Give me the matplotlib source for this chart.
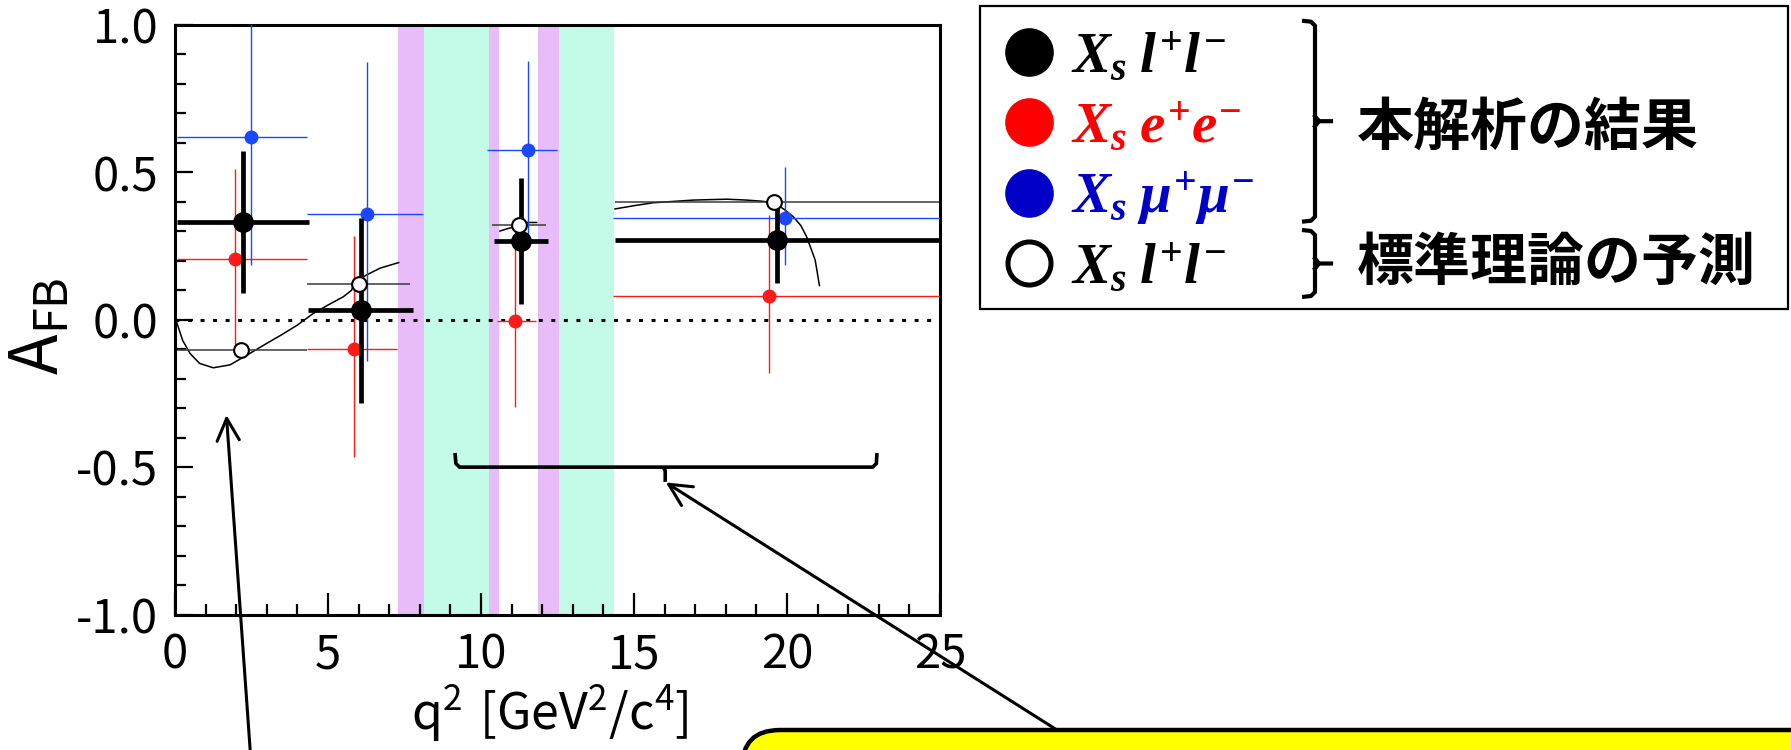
import numpy as np
import matplotlib
matplotlib.use('Agg')
import matplotlib.pyplot as plt
from matplotlib.patches import FancyBboxPatch, Rectangle

plt.rcParams['font.family'] = ['Noto Sans CJK JP', 'DejaVu Sans']
plt.rcParams['axes.unicode_minus'] = False
plt.rcParams['mathtext.fontset'] = 'dejavusans'
# fuentes para la leyenda (math_fontfamily='custom')
plt.rcParams['mathtext.rm'] = 'Liberation Serif:bold'
plt.rcParams['mathtext.it'] = 'Liberation Serif:italic:bold'
plt.rcParams['mathtext.bf'] = 'Liberation Serif:bold'

# Datos: combinado (negro), e+e- (rojo), mu+mu- (azul), predicción SM (círculos abiertos)
black_x = [2.23, 6.08, 11.31, 19.67]
black_y = [0.333, 0.033, 0.267, 0.270]
black_xlo = [0.05, 4.36, 10.42, 14.38]
black_xhi = [4.39, 7.77, 12.20, 25.0]
black_ylo = [0.092, -0.281, 0.052, 0.124]
black_yhi = [0.573, 0.344, 0.482, 0.416]

red_x = [1.97, 5.85, 11.11, 19.40]
red_y = [0.205, -0.099, -0.003, 0.082]
red_xlo = [0.05, 4.30, 10.53, 14.33]
red_xhi = [4.30, 7.27, 11.80, 25.0]
red_ylo = [-0.089, -0.467, -0.297, -0.180]
red_yhi = [0.510, 0.284, 0.288, 0.355]

blue_x = [2.48, 6.26, 11.52, 19.93]
blue_y = [0.621, 0.359, 0.576, 0.346]
blue_xlo = [0.05, 4.30, 10.21, 14.33]
blue_xhi = [4.30, 8.11, 12.47, 25.0]
blue_ylo = [0.186, -0.139, 0.288, 0.186]
blue_yhi = [1.20, 0.874, 0.878, 0.519]

sm_x = [2.16, 6.02, 11.24, 19.59]
sm_y = [-0.103, 0.120, 0.321, 0.398]
sm_xlo = [0.05, 4.30, 10.37, 14.38]
sm_xhi = [4.30, 7.68, 12.11, 25.0]

# curva teórica (tres tramos)
curve1_x = [0.05, 0.25, 0.49, 0.8, 1.25, 1.8, 2.45, 3.0, 3.5, 4.0, 4.5, 5.0, 5.5, 5.77, 5.85, 6.26, 6.7, 7.31]
curve1_y = [-0.007, -0.07, -0.114, -0.148, -0.163, -0.153, -0.114, -0.08, -0.05, -0.018, 0.02, 0.05, 0.078, 0.10, 0.125, 0.152, 0.175, 0.194]
curve2_x = [10.62, 10.9, 11.2, 11.5, 11.82]
curve2_y = [0.301, 0.31, 0.318, 0.33, 0.33]
curve3_x = [14.38, 15.0, 15.63, 16.94, 18.03, 18.68, 19.2, 19.6, 19.9, 20.2, 20.45, 20.64, 20.92, 21.06]
curve3_y = [0.376, 0.387, 0.397, 0.406, 0.409, 0.406, 0.402, 0.395, 0.375, 0.35, 0.32, 0.282, 0.203, 0.116]

# regiones de veto
magenta_bands = [(7.30, 8.15), (10.25, 10.60), (11.85, 12.55)]
cyan_bands = [(8.15, 10.25), (12.55, 14.35)]

# llave bajo los puntos (coordenadas de datos)
brace_x = [9.15, 9.18, 9.30, 22.80, 22.92, 22.94]
brace_y = [-0.452, -0.488, -0.500, -0.500, -0.488, -0.452]
notch_x = [15.95, 16.02, 16.02]
notch_y = [-0.500, -0.512, -0.550]

W, H = 1791, 750
fig = plt.figure(figsize=(W / 100, H / 100), dpi=100)
ax = fig.add_axes([175 / W, 1 - 614.5 / H, (940 - 175) / W, (614.5 - 25) / H])

for a, b in magenta_bands:
    ax.axvspan(a, b, color='#e8bcf8', lw=0, zorder=0.5)
for a, b in cyan_bands:
    ax.axvspan(a, b, color='#c4fbe8', lw=0, zorder=0.5)

ax.axhline(0, color='k', lw=2.2, ls=(0, (1.3, 2.8)), zorder=1)

for cx, cy in [(curve1_x, curve1_y), (curve2_x, curve2_y), (curve3_x, curve3_y)]:
    ax.plot(cx, cy, color='k', lw=1.1, zorder=2)


def draw_points(xs, ys, xlo, xhi, ylo, yhi, color, ms, lw, z):
    xs, ys = np.array(xs), np.array(ys)
    ax.errorbar(xs, ys,
                xerr=[xs - np.array(xlo), np.array(xhi) - xs],
                yerr=[ys - np.array(ylo), np.array(yhi) - ys],
                fmt='o', color=color, ms=ms, elinewidth=lw, capsize=0, zorder=z)


draw_points(red_x, red_y, red_xlo, red_xhi, red_ylo, red_yhi, '#ff1a1a', 9.0, 1.0, 3)
draw_points(blue_x, blue_y, blue_xlo, blue_xhi, blue_ylo, blue_yhi, '#1a47ff', 9.0, 1.0, 3)
ax.hlines(sm_y, sm_xlo, sm_xhi, color='#3a3a3a', lw=1.1, zorder=2.5)
draw_points(black_x, black_y, black_xlo, black_xhi, black_ylo, black_yhi, 'k', 14, 3.4, 4)
ax.plot(sm_x, sm_y, 'o', ms=10.6, mfc='white', mec='k', mew=1.5, zorder=5)

ax.plot(brace_x, brace_y, color='k', lw=2.6, zorder=6, solid_capstyle='butt')
ax.plot(notch_x, notch_y, color='k', lw=2.6, zorder=6, solid_capstyle='butt')

ax.set_xlim(0, 25)
ax.set_ylim(-1, 1)
ax.set_xticks([0, 5, 10, 15, 20, 25])
ax.set_xticks(np.arange(0, 26, 1), minor=True)
ax.set_yticks([-1.0, -0.5, 0.0, 0.5, 1.0])
ax.set_yticks(np.arange(-1.0, 1.01, 0.1), minor=True)
ax.set_yticklabels(['-1.0', '-0.5', '0.0', '0.5', '1.0'])
ax.tick_params(which='both', direction='in', top=False, right=False, width=1.6, labelsize=34)
ax.tick_params(axis='x', which='major', length=16, pad=12)
ax.tick_params(axis='y', which='major', length=13, pad=12)
ax.tick_params(which='minor', length=8)
for s in ax.spines.values():
    s.set_linewidth(2.2)

ax.set_xlabel(r'$\mathregular{q^2\ [GeV^2/c^4]}$', fontsize=36)
ax.xaxis.set_label_coords(0.49, -0.116)
ax.set_ylabel(r'$\mathregular{A_{FB}}$', fontsize=48)
ax.yaxis.set_label_coords(-0.133, 0.489)

# capa superior en píxeles de la figura
over = fig.add_axes([0, 0, 1, 1], zorder=10)
over.set_xlim(0, W)
over.set_ylim(H, 0)
over.axis('off')
over.patch.set_alpha(0)

over.add_patch(FancyBboxPatch((742, 730), 1300, 200, boxstyle='round,pad=0,rounding_size=38',
                              fc='#ffff00', ec='k', lw=3.2, zorder=2))

arrow_kw = dict(arrowstyle='->,head_length=0.8,head_width=0.4', lw=2.2, color='k',
                mutation_scale=20, shrinkA=0, shrinkB=0)
over.annotate('', xy=(1.68, -0.323), xycoords=ax.transData, xytext=(253, 790),
              textcoords='data', arrowprops=arrow_kw, annotation_clip=False, zorder=1)
over.annotate('', xy=(16.04, -0.552), xycoords=ax.transData, xytext=(1057, 730),
              textcoords='data', arrowprops=arrow_kw, annotation_clip=False, zorder=1)

# leyenda
over.add_patch(Rectangle((980, 6), 808, 303, fc='white', ec='k', lw=1.6, zorder=1))

leg_y = [51.7, 121.7, 192.7, 263.3]
leg_labels = [r'$X_s\;l^{+}l^{-}$', r'$X_s\;e^{+}e^{-}$', r'$X_s\;\mu^{+}\mu^{-}$', r'$X_s\;l^{+}l^{-}$']
leg_colors = ['k', '#ff0000', '#0000c8', 'k']
for i, (yy, lab, col) in enumerate(zip(leg_y, leg_labels, leg_colors)):
    if i < 3:
        over.plot(1029, yy, 'o', ms=34, color=col, zorder=3)
    else:
        over.plot(1029, yy, 'o', ms=31, mfc='white', mec='k', mew=3.6, zorder=3)
    over.text(1071, yy + 20, lab, fontsize=41, color=col, math_fontfamily='custom',
              ha='left', va='baseline', zorder=3)


def brace(top, bottom, xh=1302, xv=1315, xj=1331):
    mid = (top + bottom) / 2
    over.plot([xh, xv - 4, xv, xv, xv - 4, xh], [top, top + 1, top + 5, bottom - 5, bottom - 1, bottom],
              color='k', lw=3, zorder=3, solid_capstyle='butt')
    over.plot([xv, xv + 4, xj], [mid - 5, mid, mid], color='k', lw=3, zorder=3)
    over.plot([xv, xv + 4], [mid + 5, mid], color='k', lw=3, zorder=3)


brace(20.7, 221.7)
brace(230, 297)

over.text(1357, 128, '本解析の結果', fontsize=41, fontweight=600, ha='left', va='center', zorder=3)
over.text(1357, 263, '標準理論の予測', fontsize=41, fontweight=600, ha='left', va='center', zorder=3)

fig.savefig('out.png', dpi=100)
